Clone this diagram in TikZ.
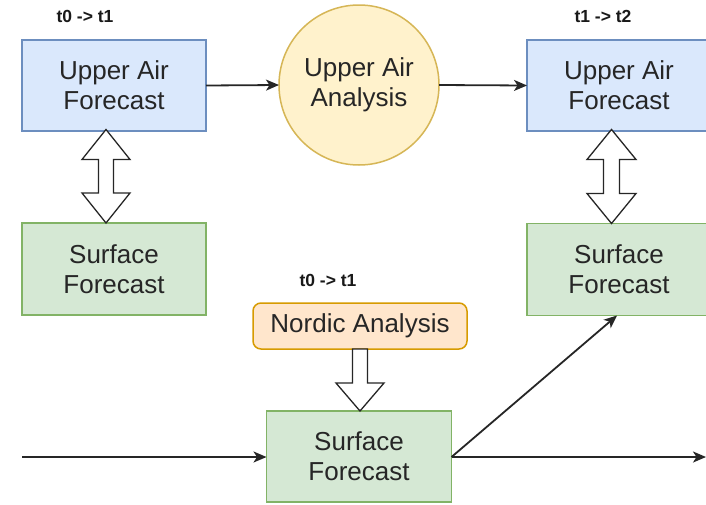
\documentclass[tikz,border=0pt]{standalone}
\usepackage{fontspec}
\setmainfont{Liberation Sans}
\usetikzlibrary{arrows.meta,calc,shapes.geometric}
\definecolor{bluefill}{HTML}{DAE8FC}
\definecolor{bluedraw}{HTML}{6C8EBF}
\definecolor{greenfill}{HTML}{D5E8D4}
\definecolor{greendraw}{HTML}{82B366}
\definecolor{yelfill}{HTML}{FFF2CC}
\definecolor{yeldraw}{HTML}{D6B656}
\definecolor{orfill}{HTML}{FFE6CC}
\definecolor{ordraw}{HTML}{D79B00}
\tikzset{
  boxtext/.style={font=\fontsize{26}{30}\selectfont, align=center, inner sep=0pt, outer sep=0pt, line width=1.5pt, text=black!85},
  bluebox/.style={boxtext, draw=bluedraw, fill=bluefill, rectangle, minimum width=184pt, minimum height=91pt},
  greenbox/.style={boxtext, draw=greendraw, fill=greenfill, rectangle, minimum width=184pt, minimum height=92pt},
  yelcircle/.style={boxtext, draw=yeldraw, fill=yelfill, circle, minimum size=160pt},
  orbox/.style={boxtext, draw=ordraw, fill=orfill, rectangle, rounded corners=8pt, minimum width=214pt, minimum height=46pt},
  steplabel/.style={font=\fontsize{17.5}{20}\selectfont\bfseries, inner sep=0pt, text=black!90},
  conn/.style={line width=1.8pt, draw=black!85, -{Stealth[length=13pt,width=11pt,inset=3.5pt]}},
  blockarrow/.style={draw=black!85, fill=white, line width=1.3pt, line join=miter}
}
\begin{document}
\begin{tikzpicture}[x=1pt,y=-1pt]
\useasboundingbox (0,0) rectangle (706,504);
\fill[white] (0,0) rectangle (706,504);

\node[steplabel] (l1) at (85,16) {t0 -> t1};
\node[steplabel] (l2) at (603,16) {t1 -> t2};
\node[steplabel] (l3) at (328,280) {t0 -> t1};

\node[bluebox] (uaf1) at (114,85.5) {Upper Air\\Forecast};
\node[yelcircle] (uaa) at (359,85) {Upper Air\\Analysis};
\node[bluebox] (uaf2) at (619,85.5) {Upper Air\\Forecast};
\node[greenbox] (sf1) at (114,269) {Surface\\Forecast};
\node[greenbox] (sf2) at (619,269.5) {Surface\\Forecast};
\node[orbox] (na) at (360,326) {Nordic Analysis};
\node[greenbox, minimum width=185pt, minimum height=91pt] (sf3) at (359,456.5) {Surface\\Forecast};

\coordinate (in) at (22,457);
\coordinate (out) at (706,457);

\draw[conn] (uaf1.east) -- (uaa.west);
\draw[conn] (uaa.east) -- (uaf2.west);
\draw[conn] (in) -- (in -| sf3.west);
\draw[conn] (out -| sf3.east) -- (out);
\draw[conn] (out -| sf3.east) -- ($(sf2.south)+(-2,0)$);

% double block arrows
\draw[blockarrow] let \p1=($(uaf1.south)+(-8,-1.5)$), \p2=($(sf1.north)+(-8,0)$) in
  (\x1,\y1) -- (\x1+24pt,\y1-30pt) -- (\x1+7.5pt,\y1-30pt) -- (\x1+7.5pt,\y2+30pt) -- (\x1+24pt,\y2+30pt)
  -- (\x1,\y2) -- (\x1-24pt,\y2+30pt) -- (\x1-7.5pt,\y2+30pt) -- (\x1-7.5pt,\y1-30pt) -- (\x1-24pt,\y1-30pt) -- cycle;
\draw[blockarrow] let \p1=($(uaf2.south)+(-7.5,-1.5)$), \p2=($(sf2.north)+(-7.5,0)$) in
  (\x1,\y1) -- (\x1+24.5pt,\y1-30pt) -- (\x1+8pt,\y1-30pt) -- (\x1+8pt,\y2+30pt) -- (\x1+24.5pt,\y2+30pt)
  -- (\x1,\y2) -- (\x1-24.5pt,\y2+30pt) -- (\x1-8pt,\y2+30pt) -- (\x1-8pt,\y1-30pt) -- (\x1-24.5pt,\y1-30pt) -- cycle;
% single block arrow
\draw[blockarrow] let \p1=(na.south), \p2=(sf3.north) in
  (\x1-7.5pt,\y1) -- (\x1+7.5pt,\y1) -- (\x1+7.5pt,\y2+28pt) -- (\x1+24pt,\y2+28pt)
  -- (\x1,\y2) -- (\x1-24pt,\y2+28pt) -- (\x1-7.5pt,\y2+28pt) -- cycle;
\end{tikzpicture}
\end{document}
